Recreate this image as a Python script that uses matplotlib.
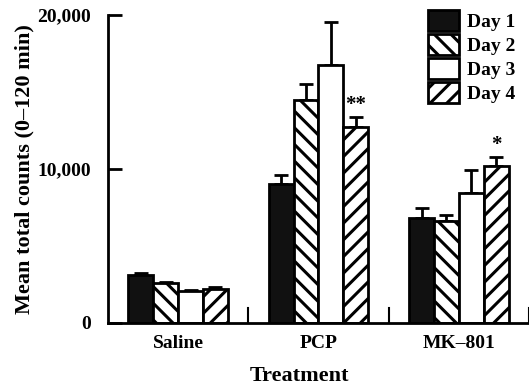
import numpy as np
import matplotlib
matplotlib.use("Agg")
import matplotlib.pyplot as plt
from matplotlib.patches import Patch

# data
treatments = ["Saline", "PCP", "MK\u2013801"]
days = ["Day 1", "Day 2", "Day 3", "Day 4"]
means = {
    "Day 1": [3100, 9000, 6800],
    "Day 2": [2600, 14500, 6600],
    "Day 3": [2100, 16750, 8450],
    "Day 4": [2200, 12700, 10200],
}
errors = {
    "Day 1": [150, 600, 650],
    "Day 2": [80, 1000, 400],
    "Day 3": [50, 2800, 1450],
    "Day 4": [100, 650, 550],
}
stars = {("Day 4", 1): "**", ("Day 4", 2): "*"}

plt.rcParams["font.family"] = "Liberation Serif"
plt.rcParams["font.weight"] = "bold"
plt.rcParams["hatch.linewidth"] = 2.2

fills = {"Day 1": "#111111", "Day 2": "white", "Day 3": "white", "Day 4": "white"}
hatches = {"Day 1": None, "Day 2": "\\\\", "Day 3": None, "Day 4": "//"}

fig = plt.figure(figsize=(5.29, 3.90), dpi=100)
ax = fig.add_axes([0.204, 0.172, 0.796, 0.79])

x = np.arange(len(treatments))
w = 0.177
for i, d in enumerate(days):
    pos = x + (i - 1.5) * w
    ax.bar(pos, means[d], w, color=fills[d], edgecolor="black", linewidth=2,
           hatch=hatches[d], zorder=2)
    ax.errorbar(pos, means[d], yerr=[np.zeros(3), errors[d]], fmt="none",
                ecolor="black", elinewidth=2, capsize=5, capthick=2, zorder=1)
    for j in range(3):
        if (d, j) in stars:
            ax.text(pos[j], means[d][j] + errors[d][j] + 150, stars[(d, j)],
                    ha="center", va="bottom", fontsize=15, fontweight="bold")

ax.set_xlim(-0.5, 2.5)
ax.set_ylim(0, 20000)
ax.set_yticks([0, 10000, 20000])
ax.set_yticklabels(["0", "10,000", "20,000"], fontsize=14, fontweight="bold")
ax.tick_params(axis="y", direction="in", length=10, width=2, pad=12)
ax.set_xticks(x)
ax.set_xticklabels(treatments, fontsize=14, fontweight="bold")
ax.tick_params(axis="x", length=0, pad=9)
for sep in [0.5, 1.5, 2.5]:
    ax.plot([sep, sep], [0, 1000], color="black", lw=1.5, clip_on=False)

for s in ["top", "right"]:
    ax.spines[s].set_visible(False)
ax.spines["left"].set_linewidth(2)
ax.spines["bottom"].set_linewidth(2)

ax.set_ylabel("Mean total counts (0\u2013120 min)", fontsize=16, fontweight="bold",
              labelpad=2)
ax.set_xlabel("Treatment", fontsize=16, fontweight="bold")
ax.xaxis.set_label_coords(0.456, -0.14)

handles = [Patch(facecolor=fills[d], edgecolor="black", linewidth=2, hatch=hatches[d])
           for d in days]
ax.legend(handles, days, loc="upper right", bbox_to_anchor=(1.0, 1.06),
          frameon=False, fontsize=14, handlelength=1.6, handleheight=1.3,
          handletextpad=0.4, labelspacing=0.15, borderpad=0.2)

fig.savefig("out.png", dpi=100)
